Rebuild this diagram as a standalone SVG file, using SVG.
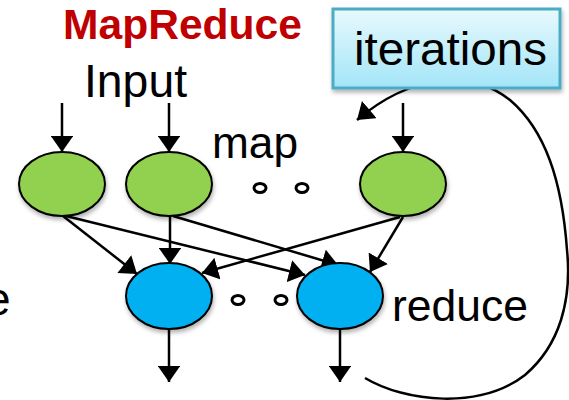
<svg xmlns="http://www.w3.org/2000/svg" width="569" height="400" viewBox="0 0 569 400">
<defs>
<marker id="ah" viewBox="0 0 10 14" refX="10" refY="7" markerWidth="6.6" markerHeight="9" markerUnits="strokeWidth" orient="auto">
<path d="M0,0 L10,7 L0,14 Z" fill="#000"/>
</marker>
<linearGradient id="boxg" x1="0" y1="0" x2="0" y2="1">
<stop offset="0" stop-color="#e8f9fd"/>
<stop offset="1" stop-color="#a3e5f8"/>
</linearGradient>
<filter id="sh" x="-20%" y="-20%" width="140%" height="150%">
<feDropShadow dx="1" dy="3" stdDeviation="2" flood-color="#000" flood-opacity="0.3"/>
</filter>
</defs>
<style>
.t{font-family:"Liberation Sans",Arial,sans-serif;font-size:46px;fill:#000}
.ln{stroke:#000;stroke-width:2.5;fill:none;marker-end:url(#ah)}
.map{fill:#92D050;stroke:#000;stroke-width:2}
.red{fill:#00B0F0;stroke:#000;stroke-width:2}
.dot{fill:none;stroke:#000;stroke-width:3}
</style>
<g id="connectors">
<path class="ln" d="M365,378 C405,402 480,410 525,375 C560,345 572,300 567,250 C562,180 545,130 510,100 C470,68 410,75 357,120"/>
<line class="ln" x1="62" y1="103" x2="62" y2="152"/>
<line class="ln" x1="169" y1="103" x2="169" y2="152"/>
<line class="ln" x1="403" y1="103" x2="403" y2="152"/>
<line class="ln" x1="63" y1="216" x2="137" y2="274"/>
<line class="ln" x1="66" y1="216" x2="305" y2="275"/>
<line class="ln" x1="170" y1="216" x2="170" y2="264"/>
<line class="ln" x1="173" y1="216" x2="338" y2="265"/>
<line class="ln" x1="400" y1="217" x2="202" y2="273"/>
<line class="ln" x1="403" y1="217" x2="370" y2="272"/>
<line class="ln" x1="169" y1="329" x2="169" y2="382"/>
<line class="ln" x1="340" y1="329" x2="340" y2="382"/>
</g>
<g id="title"><text x="63" y="39" style="font-family:'Liberation Sans',Arial,sans-serif;font-weight:bold;font-size:43px;fill:#C00000" textLength="239" lengthAdjust="spacingAndGlyphs">MapReduce</text></g>
<g id="iterations">
<rect x="333" y="9" width="227" height="79" fill="url(#boxg)" stroke="#4BACC6" stroke-width="3" filter="url(#sh)"/>
<text class="t" x="354" y="65" textLength="193" lengthAdjust="spacingAndGlyphs">iterations</text>
</g>
<g id="input"><text class="t" x="84" y="97" textLength="103" lengthAdjust="spacingAndGlyphs">Input</text></g>
<g id="maplabel"><text class="t" x="212" y="158" style="font-size:44px" textLength="86" lengthAdjust="spacingAndGlyphs">map</text></g>
<g id="reducelabel"><text class="t" x="392" y="321" style="font-size:45px" textLength="136" lengthAdjust="spacingAndGlyphs">reduce</text></g>
<g id="cut"><text class="t" x="-15" y="315">e</text></g>
<g id="map1"><ellipse class="map" cx="62" cy="184" rx="43" ry="32" filter="url(#sh)"/></g>
<g id="map2"><ellipse class="map" cx="169" cy="184" rx="43" ry="32" filter="url(#sh)"/></g>
<g id="map3"><ellipse class="map" cx="403" cy="184" rx="43" ry="32" filter="url(#sh)"/></g>
<g id="mapdots"><ellipse class="dot" cx="260" cy="188" rx="6" ry="4.5"/><ellipse class="dot" cx="302" cy="188" rx="6" ry="4.5"/></g>
<g id="reduce1"><ellipse class="red" cx="169" cy="296" rx="43" ry="33" filter="url(#sh)"/></g>
<g id="reduce2"><ellipse class="red" cx="340" cy="296" rx="43" ry="33" filter="url(#sh)"/></g>
<g id="reducedots"><ellipse class="dot" cx="238" cy="300" rx="6" ry="4.5"/><ellipse class="dot" cx="281" cy="300" rx="6" ry="4.5"/></g>
</svg>
